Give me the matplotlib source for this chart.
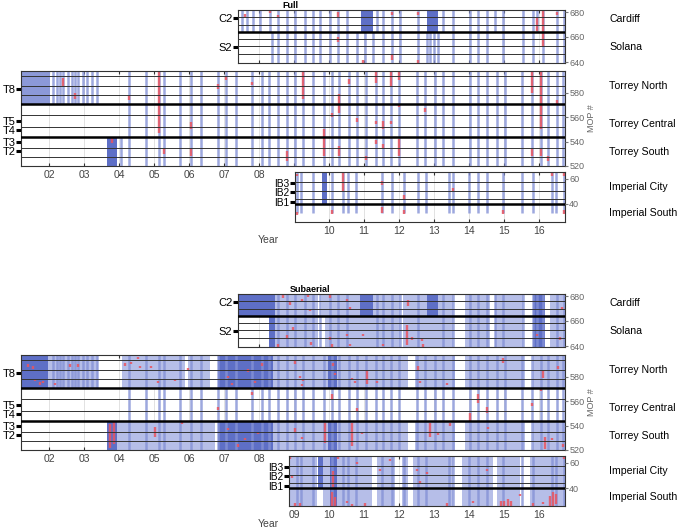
import matplotlib
matplotlib.use("Agg")
import matplotlib.pyplot as plt

plt.rcParams['font.family'] = ['Liberation Sans', 'DejaVu Sans']

W, H = 685, 528

full_torrey_all = [2004.29, 2004.77, 2005.14, 2005.29, 2005.74, 2006.06, 2006.34, 2006.83,
                   2007.06, 2007.34, 2007.80, 2008.09, 2008.29, 2008.54, 2008.80, 2009.03,
                   2009.26, 2009.54, 2009.86, 2010.09, 2010.29, 2010.57, 2010.80, 2011.06,
                   2011.34, 2011.54, 2011.77, 2012.00, 2012.51, 2012.74, 2013.03, 2013.26,
                   2013.54, 2014.03, 2014.26, 2014.51, 2014.80, 2015.03, 2015.51, 2015.80,
                   2016.06, 2016.26, 2016.51, 2016.70]
full_north_extra = [2002.11, 2002.23, 2002.31, 2002.40, 2002.54, 2002.66, 2002.74, 2002.83,
                    2002.97, 2003.09, 2003.23, 2003.37]
full_north_dense = [(2001.22, 2002.03)]
full_south_extra = [2004.06]
full_south_dense = [(2003.66, 2003.94)]

full_cardiff = [2007.51, 2007.65, 2007.84, 2008.03, 2008.31, 2008.55, 2008.79, 2009.03,
                2009.31, 2009.55, 2009.74, 2010.03, 2010.27, 2010.51, 2011.36, 2011.55,
                2011.79, 2012.03, 2012.55, 2013.27, 2013.55, 2014.03, 2014.27, 2014.51,
                2014.74, 2014.98, 2015.55, 2015.84, 2015.93, 2016.12, 2016.51, 2016.72]
full_cardiff_dense = [(2010.91, 2011.25), (2012.79, 2013.12)]
full_solana = [2008.36, 2008.55, 2008.79, 2009.03, 2009.31, 2009.55, 2009.74, 2010.03,
               2010.27, 2010.51, 2010.79, 2011.03, 2011.27, 2011.55, 2011.79, 2012.03,
               2012.55, 2012.79, 2012.89, 2013.00, 2013.12, 2013.55, 2014.03, 2014.27,
               2014.51, 2014.98, 2015.55, 2015.84, 2016.12, 2016.51, 2016.72]

full_imperial = [2009.08, 2009.19, 2009.55, 2010.08, 2010.39, 2010.54, 2010.77, 2011.51,
                 2011.79, 2012.15, 2012.53, 2012.77, 2013.44, 2013.55, 2014.01, 2014.27,
                 2014.52, 2014.98, 2015.51, 2015.82, 2016.36, 2016.49, 2016.72]
full_imperial_dense = [(2009.80, 2009.94)]

# ---- periods of frequent subaerial surveys (start, end) ----
sub_cardiff_spans = [(2008.46, 2009.69), (2009.80, 2010.89), (2011.26, 2012.03), (2012.11, 2012.80),
                     (2013.11, 2013.54), (2013.89, 2014.60), (2014.74, 2015.54), (2016.31, 2016.74)]
sub_cardiff_dense = [(2007.40, 2008.46), (2010.89, 2011.26), (2012.80, 2013.11), (2015.83, 2016.17)]
sub_solana_spans = [(2008.46, 2009.69), (2009.89, 2012.03), (2012.11, 2013.54), (2013.89, 2014.60),
                    (2014.74, 2015.54), (2016.31, 2016.74)]
sub_solana_dense = [(2008.29, 2008.46), (2015.83, 2016.17)]
sub_north_spans = [(2001.97, 2003.40), (2004.09, 2005.89), (2005.97, 2006.60), (2008.40, 2012.26),
                   (2012.46, 2013.60), (2013.89, 2015.60), (2015.83, 2016.74)]
sub_north_dense = [(2001.22, 2001.97), (2006.83, 2008.40), (2009.97, 2010.23)]
sub_south_spans = [(2003.94, 2006.74), (2008.40, 2012.26), (2012.46, 2013.60), (2013.89, 2015.60),
                   (2015.83, 2016.74)]
sub_south_dense = [(2003.66, 2003.94), (2006.83, 2008.40), (2009.97, 2010.23)]
sub_imperial_spans = [(2008.86, 2009.66), (2009.83, 2010.03), (2010.23, 2011.23), (2011.37, 2011.89),
                      (2012.09, 2012.26), (2012.40, 2013.54), (2013.80, 2014.69), (2014.80, 2015.46),
                      (2015.74, 2016.74)]
sub_imperial_dense = [(2010.03, 2010.23)]
sub_imperial_city_dense = [(2009.69, 2009.83)]

# ---- red marks (year, mop_low, mop_high) ----
full_red_top = [(2007.60, 676, 678.5), (2008.31, 679, 681), (2008.55, 675, 677.5), (2010.27, 676, 680),
                (2010.27, 656, 660), (2010.98, 639.5, 641.5), (2011.79, 678, 680), (2011.79, 641.5, 645.5),
                (2012.55, 678, 680), (2012.55, 639.5, 641.5), (2015.93, 665, 675), (2016.12, 652, 681),
                (2016.51, 678, 680)]
full_red_torrey = [(2002.40, 585, 592), (2002.74, 575, 580), (2003.80, 539, 543), (2004.29, 574, 578),
                   (2005.14, 547, 597), (2005.29, 530, 535), (2006.06, 550, 556), (2006.06, 528, 535),
                   (2006.83, 583, 587), (2007.06, 590, 593), (2007.80, 586, 589), (2008.80, 524, 532),
                   (2009.26, 575, 597), (2009.86, 528, 550), (2010.09, 560, 563), (2010.29, 563, 579),
                   (2010.29, 528, 536), (2010.57, 587, 591), (2010.80, 556, 559), (2011.06, 525, 528),
                   (2011.34, 588, 597), (2011.34, 554, 557), (2011.34, 538, 541), (2011.54, 550, 557),
                   (2011.54, 534, 538), (2011.77, 585, 597), (2011.77, 554, 557), (2012.00, 590, 597),
                   (2012.00, 568, 571), (2012.00, 528, 542), (2012.74, 564, 567), (2015.80, 580, 597),
                   (2015.80, 528, 534), (2016.06, 550, 597), (2016.06, 528, 534), (2016.26, 524, 528),
                   (2016.51, 571, 574)]
full_red_imperial = [(2009.08, 62, 64), (2009.08, 31, 34), (2010.08, 32, 35), (2010.39, 50, 65),
                     (2011.51, 55, 58), (2011.51, 33, 38), (2012.15, 44, 47), (2012.15, 32, 35),
                     (2013.55, 50, 53), (2014.98, 32, 35), (2016.36, 62, 65), (2016.72, 62, 65),
                     (2016.72, 32, 35)]

sub_red_top = [(2008.70, 678.5, 680.5), (2008.89, 673, 675), (2009.22, 676, 678), (2009.41, 679.5, 681.5),
               (2009.46, 668, 670), (2010.03, 678.5, 680.5), (2010.51, 676, 678), (2010.60, 669, 671),
               (2012.27, 672, 677), (2016.65, 669, 671), (2008.55, 639.5, 641.5), (2008.79, 646.5, 648.5),
               (2008.98, 653, 655), (2009.50, 641, 643), (2010.03, 645, 647), (2010.08, 639.5, 641.5),
               (2010.51, 648, 650), (2010.60, 640, 642), (2010.98, 648, 650), (2011.55, 640, 642),
               (2012.22, 641, 657), (2012.36, 645, 647), (2012.65, 644, 646), (2012.69, 639.5, 641.5),
               (2015.93, 648, 650), (2016.60, 645, 647)]
sub_red_torrey = [(2001.41, 588, 590), (2001.55, 586.5, 588.5), (2001.60, 576, 578), (2001.74, 573, 575.5),
                  (2001.84, 574.5, 576.5), (2002.17, 573, 575), (2002.60, 588, 590), (2002.84, 588, 590),
                  (2004.17, 589, 591), (2004.35, 590, 592), (2004.55, 594, 596), (2004.60, 587, 589),
                  (2004.90, 587, 589), (2005.12, 574.5, 576.5), (2005.60, 576, 578), (2005.98, 585, 587),
                  (2007.12, 578.5, 580.5), (2007.22, 573, 575), (2007.69, 584, 586), (2007.89, 574.5, 576.5),
                  (2008.08, 589, 591), (2003.75, 522, 541), (2003.85, 525, 543), (2005.03, 531, 539),
                  (2005.79, 541, 543), (2007.12, 536, 538), (2007.41, 522.5, 524.5), (2007.60, 528, 530),
                  (2007.98, 533, 535), (2007.79, 565, 567), (2006.84, 553, 555), (2010.08, 561, 566),
                  (2010.79, 552, 554), (2014.27, 558, 566), (2014.03, 544, 550), (2014.51, 550, 555),
                  (2015.79, 556, 558), (2016.07, 568, 570), (2009.03, 590.5, 592.5), (2009.17, 578.5, 580.5),
                  (2009.27, 576, 578), (2009.22, 572, 574), (2010.12, 589, 591), (2010.17, 581, 583),
                  (2010.65, 577, 579), (2010.74, 574.5, 576.5), (2011.08, 574, 585), (2011.36, 574.5, 576.5),
                  (2012.55, 585, 589), (2012.60, 574.5, 576.5), (2013.36, 573, 575), (2014.98, 591, 595),
                  (2016.12, 579, 585), (2016.55, 586.5, 588.5), (2009.89, 526, 542), (2010.65, 523, 542),
                  (2010.94, 533, 535), (2009.03, 534, 538), (2009.22, 529, 531), (2012.89, 531, 542),
                  (2013.12, 532, 534), (2013.46, 540, 542), (2014.55, 537, 539), (2016.17, 521, 531),
                  (2016.36, 528, 530), (2016.70, 522.5, 524.5)]
sub_red_imperial = [(2008.89, 63, 65), (2008.93, 48, 50), (2009.03, 25.6, 28), (2009.17, 25.6, 28),
                    (2010.08, 26, 37), (2010.12, 41, 54), (2010.17, 26, 33), (2010.27, 63, 65),
                    (2010.51, 28, 30), (2010.65, 25.6, 27.5), (2010.79, 59, 61), (2011.03, 25.6, 28),
                    (2011.46, 53.5, 55.5), (2011.74, 61.5, 63.5), (2012.50, 53.5, 55.5), (2012.60, 44, 46),
                    (2012.79, 51, 53), (2013.36, 25.6, 28), (2014.12, 28, 30), (2014.51, 53.5, 55.5),
                    (2014.90, 26, 30), (2015.00, 26, 30), (2015.10, 26, 31), (2015.20, 26, 30),
                    (2015.46, 33.5, 35.5), (2015.84, 25.6, 28), (2016.12, 27, 29), (2016.31, 26, 34),
                    (2016.40, 26, 37), (2016.48, 27, 35), (2016.70, 63, 65)]

# ---- reach boundaries in MOP numbers ----
cardiff = (664, 682)
solana = (639, 664)
t_north = (570.5, 598)
t_central = (543.5, 570.5)
t_south = (520, 543.5)
imp_city = (40, 66)
imp_south = (25.6, 40)

BLUE = '#8592d6'
FILL = '#b6bee8'
DENSE = '#5e6fc6'
RED = '#ea5560'


def px_axes(fig, x0, y0, x1, y1):
    return fig.add_axes([x0 / W, 1 - y1 / H, (x1 - x0) / W, (y1 - y0) / H])


def lines(ax, dates, rng, color=BLUE, lw=1.8):
    ax.vlines(dates, rng[0], rng[1], colors=color, lw=lw, alpha=0.8, zorder=2)


def spans(ax, periods, rng, color):
    for a, b in periods:
        ax.bar(a, rng[1] - rng[0], width=b - a, bottom=rng[0], align='edge',
               color=color, lw=0, zorder=1.5)


def reds(ax, marks):
    x = [m[0] for m in marks]
    lo = [m[1] for m in marks]
    hi = [m[2] for m in marks]
    ax.vlines(x, lo, hi, colors=RED, lw=1.7, alpha=0.85, zorder=2.5)


def style(ax, xlim, ylim, ylabels, yl_pos, right_ticks, thick, thin, xlabel_years, lab_size=8):
    ax.set_xlim(*xlim)
    ax.set_ylim(*ylim)
    years = [y for y in range(2002, 2017) if xlim[0] <= y <= xlim[1]]
    ax.set_xticks(years)
    ax.set_xticklabels(['%02d' % (y % 100) if y in xlabel_years else '' for y in years])
    ax.tick_params(axis='x', direction='in', length=2.5, top=True, labelsize=7.5,
                   pad=3, colors='#333333', labelcolor='#444444')
    ax.grid(axis='x', color='#dddddd', lw=0.6, zorder=0)
    ax.set_axisbelow(True)
    ax.set_yticks(yl_pos)
    ax.set_yticklabels(ylabels)
    ax.tick_params(axis='y', direction='out', length=3.5, width=2.2, labelsize=lab_size, pad=0.5)
    for y in thick:
        ax.axhline(y, color='black', lw=1.8, zorder=3)
    for y in thin:
        ax.axhline(y, color='#333333', lw=0.7, zorder=3)
    for s in ax.spines.values():
        s.set_linewidth(0.8)
        s.set_color('#333333')
    ax2 = ax.twinx()
    ax2.set_ylim(*ylim)
    ax2.set_yticks(right_ticks)
    ax2.tick_params(axis='y', direction='out', length=2, labelsize=6.5, pad=1,
                    colors='#777777', labelcolor='#666666')
    for s in ax2.spines.values():
        s.set_visible(False)


fig = plt.figure(figsize=(6.85, 5.28), dpi=100)

for panel, dy in (('Full', 0), ('Subaerial', 284)):
    full = panel == 'Full'
    ax_t = px_axes(fig, 238, 10 + dy, 565, 63 + dy)
    ax_m = px_axes(fig, 21, 71 + dy, 565, 166 + dy)
    imp_x0 = 295 if full else 289
    ax_i = px_axes(fig, imp_x0, 172 + dy, 565, 222 + dy)
    x_end = 2002 + (565 - 49) / 35

    if full:
        lines(ax_t, full_cardiff, cardiff)
        spans(ax_t, full_cardiff_dense, cardiff, DENSE)
        lines(ax_t, full_solana, solana)
        reds(ax_t, full_red_top)

        spans(ax_m, full_north_dense, t_north, '#8c99d8')
        lines(ax_m, full_north_extra, t_north)
        lines(ax_m, full_torrey_all, (t_south[0], t_north[1]))
        spans(ax_m, full_south_dense, t_south, DENSE)
        lines(ax_m, full_south_extra, t_south)
        reds(ax_m, full_red_torrey)

        lines(ax_i, full_imperial, (32.5, imp_city[1]))
        spans(ax_i, full_imperial_dense, imp_city, DENSE)
        reds(ax_i, full_red_imperial)
    else:
        spans(ax_t, sub_cardiff_spans, cardiff, FILL)
        spans(ax_t, sub_cardiff_dense, cardiff, DENSE)
        spans(ax_t, sub_solana_spans, solana, FILL)
        spans(ax_t, sub_solana_dense, solana, DENSE)
        lines(ax_t, [d for d in full_cardiff if d > 2008.46], (solana[0], cardiff[1]))
        reds(ax_t, sub_red_top)

        spans(ax_m, sub_north_spans, t_north, FILL)
        spans(ax_m, sub_north_dense, t_north, DENSE)
        spans(ax_m, sub_south_spans, t_south, FILL)
        spans(ax_m, sub_south_dense, t_south, DENSE)
        lines(ax_m, full_north_extra, t_north)
        lines(ax_m, full_torrey_all, (t_south[0], t_north[1]))
        reds(ax_m, sub_red_torrey)

        spans(ax_i, sub_imperial_spans, (imp_south[0], imp_city[1]), FILL)
        spans(ax_i, sub_imperial_dense, (imp_south[0], imp_city[1]), DENSE)
        spans(ax_i, sub_imperial_city_dense, imp_city, DENSE)
        lines(ax_i, full_imperial, (imp_south[0], imp_city[1]))
        reds(ax_i, sub_red_imperial)

    style(ax_t, (2007.40, x_end), (639.2, 681.6), ['C2', 'S2'], [675, 652],
          [640, 660, 680], [664], [676, 670, 658.5, 652.5, 646.5], [])
    style(ax_m, (2001.20, x_end), (520, 597.6), ['T8', 'T5', 'T4', 'T3', 'T2'],
          [583, 557, 549, 540, 532], [520, 540, 560, 580], [570.5, 543.5],
          [593.6, 585.6, 577.6, 561.6, 552, 535, 527], list(range(2002, 2009)))
    imp_start = 2002 + (imp_x0 - 49) / 35
    style(ax_i, (imp_start, x_end), (25.6, 65.6), ['IB3', 'IB2', 'IB1'], [56.5, 49.6, 41.6],
          [40, 60], [40], [57.6, 50.4, 44], list(range(2009, 2017)), lab_size=7.3)

    fig.text((290 if full else 310) / W, 1 - (5 + dy) / H, panel, fontsize=6.5,
             fontweight='bold', ha='center', va='center')
    fig.text(268 / W, 1 - (240 + dy) / H, 'Year', fontsize=7.5, color='#444444',
             ha='center', va='center')
    fig.text(592 / W, 1 - (118 + dy) / H, 'MOP #', fontsize=6.5, color='#666666',
             rotation=90, ha='center', va='center')
    for name, yy in (('Cardiff', 19), ('Solana', 47), ('Torrey North', 86), ('Torrey Central', 124),
                     ('Torrey South', 152), ('Imperial City', 187), ('Imperial South', 213)):
        fig.text(609 / W, 1 - (yy + dy) / H, name, fontsize=7.6, ha='left', va='center')

fig.savefig('out.png', dpi=100)
